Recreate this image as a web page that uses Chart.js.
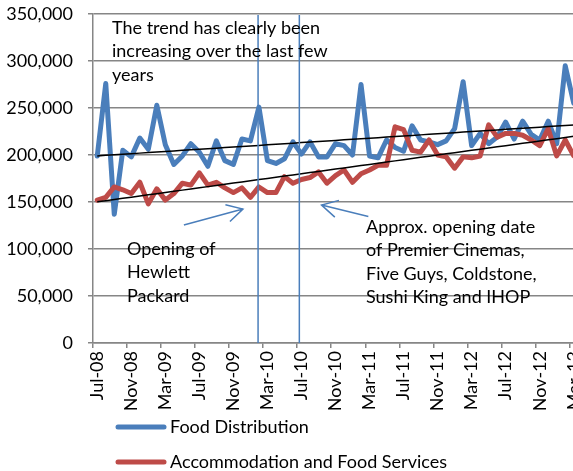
<!DOCTYPE html>
<html>
<head>
<meta charset="utf-8">
<script src="https://cdn.jsdelivr.net/npm/chart.js@4"></script>
<style>
  html, body { margin: 0; padding: 0; overflow: hidden; background: #fff; }
  canvas { display: block; }
</style>
</head>
<body>
<canvas id="myChart" width="578" height="471"></canvas>
<script>
const months = [
  'Jul-08', 'Aug-08', 'Sep-08', 'Oct-08', 'Nov-08', 'Dec-08',
  'Jan-09', 'Feb-09', 'Mar-09', 'Apr-09', 'May-09', 'Jun-09', 'Jul-09', 'Aug-09', 'Sep-09', 'Oct-09', 'Nov-09', 'Dec-09',
  'Jan-10', 'Feb-10', 'Mar-10', 'Apr-10', 'May-10', 'Jun-10', 'Jul-10', 'Aug-10', 'Sep-10', 'Oct-10', 'Nov-10', 'Dec-10',
  'Jan-11', 'Feb-11', 'Mar-11', 'Apr-11', 'May-11', 'Jun-11', 'Jul-11', 'Aug-11', 'Sep-11', 'Oct-11', 'Nov-11', 'Dec-11',
  'Jan-12', 'Feb-12', 'Mar-12', 'Apr-12', 'May-12', 'Jun-12', 'Jul-12', 'Aug-12', 'Sep-12', 'Oct-12', 'Nov-12', 'Dec-12',
  'Jan-13', 'Feb-13', 'Mar-13'
];

const foodDistribution = [
  199000, 276000, 137000, 205000, 198000, 218000, 206000, 253000, 211000, 190000,
  199000, 212000, 203000, 188000, 215000, 194000, 190000, 217000, 215000, 251000,
  194000, 191000, 196000, 214000, 201000, 214000, 198000, 198000, 212000, 210000,
  200000, 275000, 199000, 197000, 216000, 208000, 204000, 231000, 216000, 214000,
  211000, 215000, 228000, 278000, 210000, 223000, 212000, 219000, 235000, 217000,
  236000, 222000, 216000, 236000, 212000, 295000, 255000
];

const accommodation = [
  152000, 155000, 166000, 163000, 159000, 171000, 148000, 164000, 152000, 159000,
  170000, 168000, 181000, 168000, 171000, 165000, 160000, 165000, 155000, 166000,
  160000, 160000, 177000, 170000, 174000, 176000, 182000, 170000, 178000, 184000,
  171000, 180000, 184000, 189000, 189000, 230000, 227000, 205000, 203000, 216000,
  200000, 198000, 186000, 198000, 197000, 199000, 232000, 219000, 223000, 223000,
  221000, 216000, 210000, 228000, 199000, 216000, 199000
];

const yTicks = [0, 50000, 100000, 150000, 200000, 250000, 300000, 350000];

const BLUE = '#4a7ebb';
const RED = '#be4b48';
const GRID = '#868686';
const FONT = 'Lato';

// least squares line, like Excel's linear trendline
function trend(values) {
  const n = values.length;
  let sx = 0, sy = 0, sxy = 0, sxx = 0;
  values.forEach((v, i) => { sx += i; sy += v; sxy += i * v; sxx += i * i; });
  const slope = (n * sxy - sx * sy) / (n * sxx - sx * sx);
  const icpt = (sy - slope * sx) / n;
  return values.map((v, i) => icpt + slope * i);
}

// vertical marker lines (category position)
const markers = [18.9, 23.75];

// arrows: [fromCat, fromValue, toCat, toValue]
const arrows = [
  [10.18, 125500, 17.12, 142500],
  [31.86, 134600, 26.36, 146800]
];

const notes = [
  { lines: ['The trend has clearly been', 'increasing over the last few', 'years'], x: 112, y: 28 },
  { lines: ['Opening of', 'Hewlett', 'Packard'], x: 127, y: 249 },
  { lines: ['Approx. opening date', 'of Premier Cinemas,', 'Five Guys, Coldstone,', 'Sushi King and IHOP'], x: 366, y: 227 }
];

const extras = {
  id: 'extras',
  afterDatasetsDraw(chart) {
    const c = chart.ctx;
    const xs = chart.scales.x, ys = chart.scales.y;
    const area = chart.chartArea;
    c.save();
    c.strokeStyle = BLUE;
    c.lineWidth = 1.5;
    markers.forEach(m => {
      const px = xs.getPixelForValue(m);
      c.beginPath();
      c.moveTo(px, area.top + 1);
      c.lineTo(px, area.bottom);
      c.stroke();
    });
    arrows.forEach(a => {
      const x1 = xs.getPixelForValue(a[0]), y1 = ys.getPixelForValue(a[1]);
      const x2 = xs.getPixelForValue(a[2]), y2 = ys.getPixelForValue(a[3]);
      const ang = Math.atan2(y1 - y2, x1 - x2);
      c.beginPath();
      c.moveTo(x1, y1);
      c.lineTo(x2, y2);
      c.moveTo(x2 + 18 * Math.cos(ang + 0.5), y2 + 18 * Math.sin(ang + 0.5));
      c.lineTo(x2, y2);
      c.lineTo(x2 + 18 * Math.cos(ang - 0.5), y2 + 18 * Math.sin(ang - 0.5));
      c.stroke();
    });
    c.fillStyle = '#000';
    c.font = '18px ' + FONT;
    c.textBaseline = 'middle';
    c.textAlign = 'left';
    notes.forEach(n => {
      n.lines.forEach((t, i) => c.fillText(t, n.x, n.y + i * 23.5));
    });
    c.restore();
  },
  afterDraw(chart) {
    // legend, stacked vertically under the axis labels
    const c = chart.ctx;
    const items = [[foodDistribution, 'Food Distribution', BLUE], [accommodation, 'Accommodation and Food Services', RED]];
    c.save();
    c.font = '18px ' + FONT;
    c.textBaseline = 'middle';
    items.forEach((it, i) => {
      const y = 427 + i * 35;
      c.strokeStyle = it[2];
      c.lineWidth = 5;
      c.lineCap = 'round';
      c.beginPath();
      c.moveTo(118, y);
      c.lineTo(164, y);
      c.stroke();
      c.fillStyle = '#000';
      c.fillText(it[1], 170, y);
    });
    c.restore();
  }
};

const ctx = document.getElementById('myChart').getContext('2d');

new Chart(ctx, {
  type: 'line',
  data: {
    labels: months,
    datasets: [
      { label: 'trend blue', data: trend(foodDistribution), borderColor: '#000', borderWidth: 1.5, pointRadius: 0 },
      { label: 'trend red', data: trend(accommodation), borderColor: '#000', borderWidth: 1.5, pointRadius: 0 },
      { label: 'Accommodation and Food Services', data: accommodation, borderColor: RED, borderWidth: 5, pointRadius: 0, borderJoinStyle: 'round', borderCapStyle: 'round' },
      { label: 'Food Distribution', data: foodDistribution, borderColor: BLUE, borderWidth: 5, pointRadius: 0, borderJoinStyle: 'round', borderCapStyle: 'round' }
    ]
  },
  options: {
    responsive: false,
    animation: false,
    layout: { padding: { top: 14, left: 0, right: 0, bottom: 0 } },
    plugins: {
      legend: { display: false },
      tooltip: { enabled: false }
    },
    scales: {
      x: {
        offset: true,
        grid: {
          offset: true,
          drawOnChartArea: false,
          tickLength: 5,
          lineWidth: 1.5,
          color: function(context) {
            return context.index % 4 === 0 ? GRID : 'rgba(0,0,0,0)';
          }
        },
        border: { color: GRID, width: 1.5 },
        ticks: {
          autoSkip: false,
          minRotation: 90,
          maxRotation: 90,
          padding: 3,
          color: '#000',
          font: { family: FONT, size: 18 },
          callback: function(value, index) {
            return index % 4 === 0 ? months[index] : '';
          }
        },
        afterFit: function(scale) {
          scale.height = 128;
          scale.paddingLeft = 0;
          scale.paddingRight = 0;
        }
      },
      y: {
        min: yTicks[0],
        max: yTicks[yTicks.length - 1],
        afterBuildTicks: function(scale) {
          scale.ticks = yTicks.map(v => ({ value: v }));
        },
        grid: { color: GRID, lineWidth: 1.5, tickLength: 5 },
        border: { color: GRID, width: 1.5 },
        ticks: {
          padding: 15,
          color: '#000',
          font: { family: FONT, size: 18 },
          callback: function(value) {
            return value.toLocaleString('en-US');
          }
        },
        afterFit: function(scale) {
          scale.width = 93;
          scale.paddingTop = 0;
          scale.paddingBottom = 0;
        }
      }
    }
  },
  plugins: [extras]
});
</script>
</body>
</html>
